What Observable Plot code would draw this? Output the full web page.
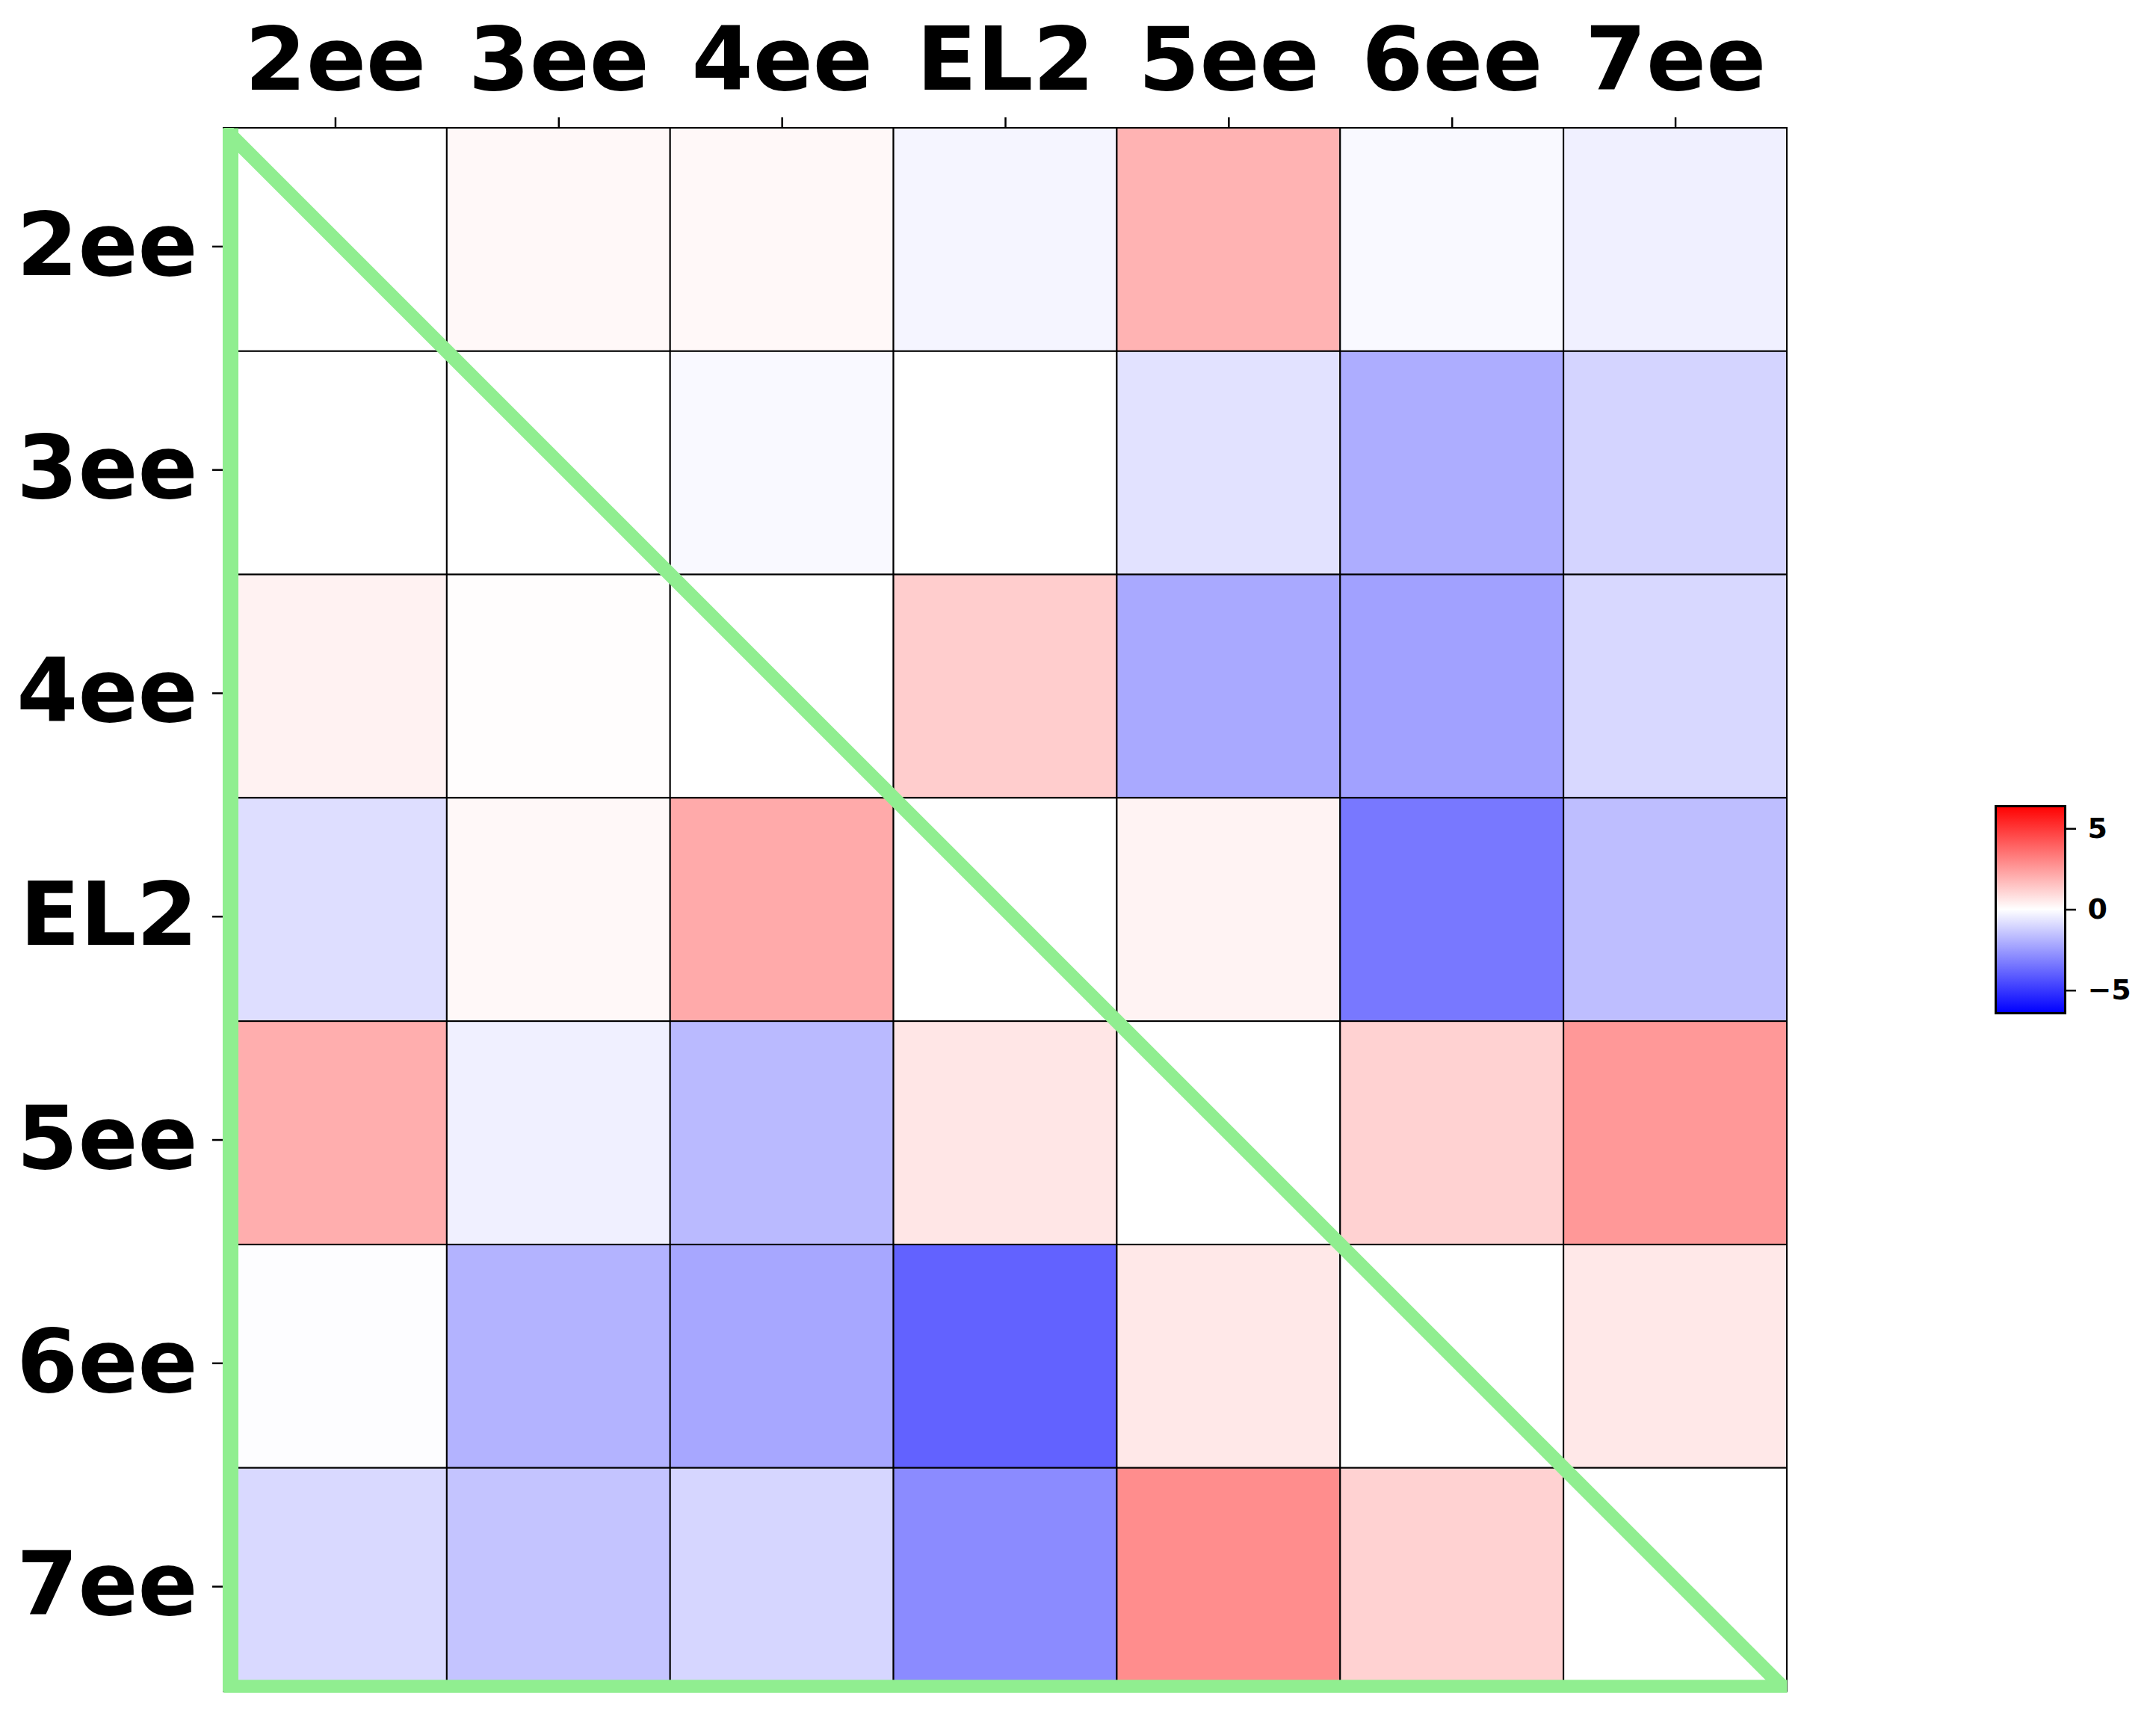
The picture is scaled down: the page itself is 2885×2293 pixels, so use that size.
<!DOCTYPE html>
<html>
<head>
<meta charset="utf-8">
<script src="https://cdn.jsdelivr.net/npm/d3@7"></script>
<script src="https://cdn.jsdelivr.net/npm/@observablehq/plot@0.6"></script>
<style>
  html, body { margin: 0; padding: 0; background: #fff; }
  #wrap { position: relative; width: 2885px; height: 2293px; }
  #main { position: absolute; left: 0; top: 0; }
  #cbar { position: absolute; left: 2620px; top: 1050px; }
</style>
</head>
<body>
<div id="wrap"><div id="main"></div><div id="cbar"></div></div>
<script>
// Categories (same order on both axes)
const labels = ["2ee", "3ee", "4ee", "EL2", "5ee", "6ee", "7ee"];

// Matrix rows (row label -> values by column)
const row2ee = [0.00, 0.18, 0.18, -0.25, 1.91, -0.15, -0.38];
const row3ee = [0.00, 0.00, -0.15, 0.00, -0.73, -2.06, -1.08];
const row4ee = [0.33, 0.05, 0.00, 1.25, -2.16, -2.36, -0.98];
const rowEL2 = [-0.83, 0.18, 2.13, 0.00, 0.30, -3.39, -1.63];
const row5ee = [2.03, -0.38, -1.73, 0.63, 0.00, 1.13, 2.59];
const row6ee = [-0.05, -1.91, -2.21, -3.94, 0.58, 0.00, 0.58];
const row7ee = [-0.95, -1.48, -1.03, -2.91, 2.86, 1.13, 0.00];

// Colour bar range and ticks
const vmin = -6.4, vmax = 6.4;
const cbarTicks = [-5, 0, 5];

const matrix = [row2ee, row3ee, row4ee, rowEL2, row5ee, row6ee, row7ee];
const n = labels.length;
const cells = matrix.flatMap((row, i) => row.map((v, j) => ({row: i, col: j, value: v})));
const lo = -0.5, hi = n - 0.5;
const leftEdge = [{x1: lo, y1: lo, x2: lo, y2: hi}];
const bottomEdge = [{x1: lo, y1: hi, x2: hi, y2: hi}];
const diagonal = [{x1: lo, y1: lo, x2: hi, y2: hi}];

const bwr = d3.piecewise(d3.interpolateRgb, ["blue", "white", "red"]);
const colorScale = {type: "linear", domain: [vmin, vmax], interpolate: bwr};
const font = "DejaVu Sans";
const green = "#90ee90";

const main = Plot.plot({
  width: 2885,
  height: 2293,
  marginLeft: 299,
  marginRight: 494,
  marginTop: 171,
  marginBottom: 30.5,
  style: {fontFamily: font, fontWeight: "bold", background: "white", overflow: "visible"},
  x: {type: "linear", domain: [lo, hi]},
  y: {type: "linear", domain: [lo, hi], reverse: true},
  color: colorScale,
  marks: [
    Plot.rect(cells, {
      x1: d => d.col - 0.5, x2: d => d.col + 0.5,
      y1: d => d.row - 0.5, y2: d => d.row + 0.5,
      fill: "value", stroke: "black", strokeWidth: 2
    }),
    Plot.axisX({
      anchor: "top", ticks: d3.range(n), tickFormat: i => labels[i],
      tickSize: 15, tickPadding: 37, strokeWidth: 2.5,
      fontSize: 118, fontWeight: "bold", fontFamily: font, label: null
    }),
    Plot.axisY({
      anchor: "left", ticks: d3.range(n), tickFormat: i => labels[i],
      tickSize: 15, tickPadding: 20, strokeWidth: 2.5, dy: 9,
      fontSize: 118, fontWeight: "bold", fontFamily: font, label: null
    }),
    Plot.link(diagonal, {x1: "x1", y1: "y1", x2: "x2", y2: "y2", stroke: green, strokeWidth: 19, strokeLinecap: "butt", clip: true}),
    Plot.link(leftEdge, {x1: "x1", y1: "y1", x2: "x2", y2: "y2", stroke: green, strokeWidth: 21, dx: 9, strokeLinecap: "butt"}),
    Plot.link(bottomEdge, {x1: "x1", y1: "y1", x2: "x2", y2: "y2", stroke: green, strokeWidth: 17.5, dy: -7, strokeLinecap: "butt"})
  ]
});
document.getElementById("main").appendChild(main);

// Colour bar
const cbar = Plot.plot({
  width: 245,
  height: 340,
  marginLeft: 50,
  marginRight: 102,
  marginTop: 28,
  marginBottom: 35,
  style: {fontFamily: font, fontWeight: "bold", background: "transparent", overflow: "visible"},
  x: {domain: [0, 1], axis: null},
  y: {domain: [vmin, vmax]},
  marks: [
    Plot.rect([{y1: vmin, y2: vmax}], {x1: 0, x2: 1, y1: "y1", y2: "y2", fill: "url(#bwr-grad)"}),
    Plot.frame({stroke: "black", strokeWidth: 3}),
    Plot.axisY({
      anchor: "right", ticks: cbarTicks,
      tickFormat: d => d < 0 ? "\u2212" + Math.abs(d) : String(d),
      tickSize: 14, tickPadding: 16, strokeWidth: 2.5,
      fontSize: 38, fontWeight: "bold", fontFamily: font, label: null
    })
  ]
});
// gradient built from the same colour scale
const svgNS = "http://www.w3.org/2000/svg";
const defs = document.createElementNS(svgNS, "defs");
const grad = document.createElementNS(svgNS, "linearGradient");
grad.setAttribute("id", "bwr-grad");
grad.setAttribute("x1", "0"); grad.setAttribute("y1", "1");
grad.setAttribute("x2", "0"); grad.setAttribute("y2", "0");
[[0, "blue"], [0.5, "white"], [1, "red"]].forEach(([o, c]) => {
  const s = document.createElementNS(svgNS, "stop");
  s.setAttribute("offset", o);
  s.setAttribute("stop-color", bwr(o));
  grad.appendChild(s);
});
defs.appendChild(grad);
cbar.insertBefore(defs, cbar.firstChild);
document.getElementById("cbar").appendChild(cbar);
</script>
</body>
</html>
